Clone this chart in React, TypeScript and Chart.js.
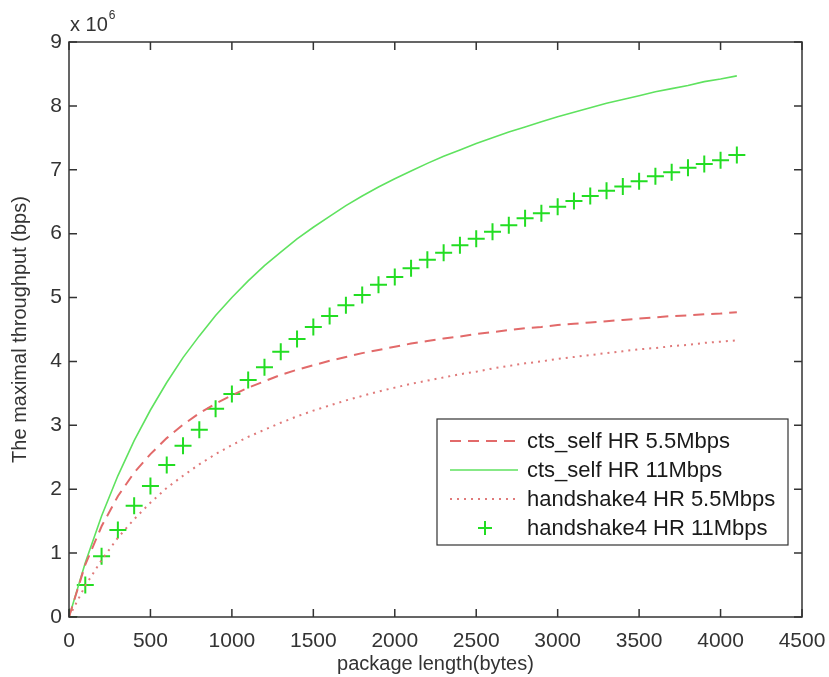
import React, { useEffect, useRef } from "react";
import { Chart, registerables } from "chart.js";

Chart.register(...registerables);

const lengths = [0, 100, 200, 300, 400, 500, 600, 700, 800, 900, 1000, 1100, 1200, 1300, 1400, 1500, 1600, 1700, 1800, 1900, 2000, 2100, 2200, 2300, 2400, 2500, 2600, 2700, 2800, 2900, 3000, 3100, 3200, 3300, 3400, 3500, 3600, 3700, 3800, 3900, 4000, 4100];

const ctsSelf55 = [0, 0.82, 1.42, 1.89, 2.26, 2.55, 2.80, 3.01, 3.19, 3.34, 3.47, 3.59, 3.69, 3.79, 3.87, 3.94, 4.01, 4.07, 4.13, 4.18, 4.23, 4.28, 4.32, 4.36, 4.39, 4.43, 4.46, 4.49, 4.52, 4.54, 4.57, 4.59, 4.61, 4.63, 4.65, 4.67, 4.69, 4.71, 4.72, 4.74, 4.75, 4.77];

const ctsSelf11 = [0, 0.85, 1.58, 2.21, 2.76, 3.24, 3.67, 4.06, 4.40, 4.72, 5.00, 5.26, 5.50, 5.71, 5.92, 6.10, 6.27, 6.44, 6.59, 6.73, 6.86, 6.98, 7.10, 7.21, 7.31, 7.41, 7.50, 7.59, 7.67, 7.75, 7.83, 7.90, 7.97, 8.04, 8.10, 8.16, 8.22, 8.27, 8.32, 8.38, 8.42, 8.47];

const handshake55 = [0, 0.49, 0.89, 1.24, 1.53, 1.79, 2.02, 2.21, 2.39, 2.55, 2.69, 2.82, 2.93, 3.04, 3.14, 3.23, 3.31, 3.39, 3.46, 3.53, 3.59, 3.65, 3.70, 3.75, 3.80, 3.84, 3.89, 3.93, 3.97, 4.00, 4.04, 4.07, 4.10, 4.13, 4.16, 4.19, 4.21, 4.24, 4.26, 4.29, 4.31, 4.33];

const handshake11 = [0, 0.50, 0.95, 1.36, 1.74, 2.05, 2.38, 2.68, 2.93, 3.26, 3.49, 3.71, 3.91, 4.15, 4.35, 4.54, 4.71, 4.88, 5.04, 5.20, 5.32, 5.46, 5.59, 5.70, 5.82, 5.92, 6.03, 6.13, 6.24, 6.32, 6.42, 6.51, 6.59, 6.67, 6.74, 6.82, 6.90, 6.96, 7.03, 7.09, 7.15, 7.23];

const seriesNames = ["cts_self HR 5.5Mbps", "cts_self HR 11Mbps", "handshake4 HR 5.5Mbps", "handshake4 HR 11Mbps"];

const xTitle = "package length(bytes)";
const yTitle = "The maximal throughput (bps)";
const FONT = "'Liberation Sans', Arial, sans-serif";
const AXIS_COLOR = "#333333";

const toPoints = (vals: number[]) => vals.map((v, i) => ({ x: lengths[i], y: v }));

const framePlugin = {
  id: "frame",
  afterDraw(chart: any) {
    const { ctx, chartArea } = chart;
    const { left, right, top, bottom } = chartArea;
    const xs = chart.scales.x;
    const ys = chart.scales.y;
    ctx.save();
    ctx.strokeStyle = AXIS_COLOR;
    ctx.lineWidth = 1.5;
    ctx.strokeRect(left, top, right - left, bottom - top);
    const tl = 8;
    ctx.beginPath();
    xs.ticks.forEach((t: any) => {
      const px = xs.getPixelForValue(t.value);
      ctx.moveTo(px, bottom);
      ctx.lineTo(px, bottom - tl);
      ctx.moveTo(px, top);
      ctx.lineTo(px, top + tl);
    });
    ys.ticks.forEach((t: any) => {
      const py = ys.getPixelForValue(t.value);
      ctx.moveTo(left, py);
      ctx.lineTo(left + tl, py);
      ctx.moveTo(right, py);
      ctx.lineTo(right - tl, py);
    });
    ctx.stroke();

    // exponent label
    ctx.fillStyle = AXIS_COLOR;
    ctx.textBaseline = "alphabetic";
    ctx.textAlign = "left";
    ctx.font = `20px ${FONT}`;
    ctx.fillText("x 10", left + 1, top - 11);
    const w = ctx.measureText("x 10").width;
    ctx.font = `12px ${FONT}`;
    ctx.fillText("6", left + 2 + w, top - 23);

    // legend
    const bx = 437, by = 419, bw = 351, bh = 126;
    ctx.fillStyle = "#ffffff";
    ctx.fillRect(bx, by, bw, bh);
    ctx.strokeStyle = "#333333";
    ctx.lineWidth = 1.2;
    ctx.strokeRect(bx, by, bw, bh);
    const rows = [441, 470, 499, 528];
    chart.data.datasets.forEach((ds: any, i: number) => {
      const y = rows[i];
      ctx.save();
      if (ds.showLine !== false) {
        ctx.strokeStyle = ds.borderColor;
        ctx.lineWidth = ds.borderWidth;
        ctx.setLineDash(ds.borderDash || []);
        ctx.beginPath();
        ctx.moveTo(450, y);
        ctx.lineTo(518, y);
        ctx.stroke();
      } else {
        ctx.strokeStyle = ds.pointBorderColor;
        ctx.lineWidth = ds.pointBorderWidth;
        const r = 7;
        ctx.beginPath();
        ctx.moveTo(485 - r, y);
        ctx.lineTo(485 + r, y);
        ctx.moveTo(485, y - r);
        ctx.lineTo(485, y + r);
        ctx.stroke();
      }
      ctx.restore();
      ctx.fillStyle = "#1a1a1a";
      ctx.font = `22px ${FONT}`;
      ctx.textBaseline = "middle";
      ctx.textAlign = "left";
      ctx.fillText(ds.label, 527, y + 1);
    });
    ctx.restore();
  },
};

export default function App() {
  const ref = useRef<HTMLCanvasElement | null>(null);
  useEffect(() => {
    document.body.style.margin = "0";
    if (!ref.current) return;
    const chart = new Chart(ref.current, {
      type: "line",
      data: {
        datasets: [
          {
            label: seriesNames[0],
            data: toPoints(ctsSelf55),
            borderColor: "#e26a6a",
            borderWidth: 2,
            borderDash: [11, 7],
            pointRadius: 0,
            fill: false,
            tension: 0,
          },
          {
            label: seriesNames[1],
            data: toPoints(ctsSelf11),
            borderColor: "#5fe25f",
            borderWidth: 1.6,
            pointRadius: 0,
            fill: false,
            tension: 0,
          },
          {
            label: seriesNames[2],
            data: toPoints(handshake55),
            borderColor: "#e07a7a",
            borderWidth: 2,
            borderDash: [2, 5],
            pointRadius: 0,
            fill: false,
            tension: 0,
          },
          {
            label: seriesNames[3],
            data: toPoints(handshake11),
            showLine: false,
            pointStyle: "cross",
            pointRadius: 8.5,
            pointBorderWidth: 2,
            pointBorderColor: "#22dd22",
            pointBackgroundColor: "#22dd22",
            borderColor: "#22dd22",
          },
        ],
      },
      options: {
        responsive: false,
        animation: false,
        layout: { padding: { top: 42, right: 27, left: 0, bottom: 0 } },
        plugins: { legend: { display: false }, tooltip: { enabled: false } },
        scales: {
          x: {
            type: "linear",
            min: 0,
            max: 4500,
            grid: { display: false, drawTicks: false },
            border: { display: false },
            ticks: {
              stepSize: 500,
              padding: 12,
              color: AXIS_COLOR,
              font: { family: FONT, size: 21 },
              maxRotation: 0,
              callback: (v: any) => String(v),
            },
            title: {
              display: true,
              text: xTitle,
              color: AXIS_COLOR,
              font: { family: FONT, size: 20 },
              padding: { top: 0, bottom: 1 },
            },
            afterFit: (s: any) => {
              s.height = 60;
              s.paddingLeft = 0;
              s.paddingRight = 0;
            },
          },
          y: {
            type: "linear",
            min: 0,
            max: 9,
            grid: { display: false, drawTicks: false },
            border: { display: false },
            ticks: {
              stepSize: 1,
              padding: 7,
              color: AXIS_COLOR,
              font: { family: FONT, size: 21 },
            },
            title: {
              display: true,
              text: yTitle,
              color: AXIS_COLOR,
              font: { family: FONT, size: 20 },
              padding: { top: 8, bottom: 0 },
            },
            afterFit: (s: any) => {
              s.width = 69;
              s.paddingTop = 0;
              s.paddingBottom = 0;
            },
          },
        },
      },
      plugins: [framePlugin],
    });
    return () => chart.destroy();
  }, []);
  return (
    <div style={{ width: 829, height: 677, background: "#fff" }}>
      <canvas ref={ref} width={829} height={677} style={{ display: "block" }} />
    </div>
  );
}
